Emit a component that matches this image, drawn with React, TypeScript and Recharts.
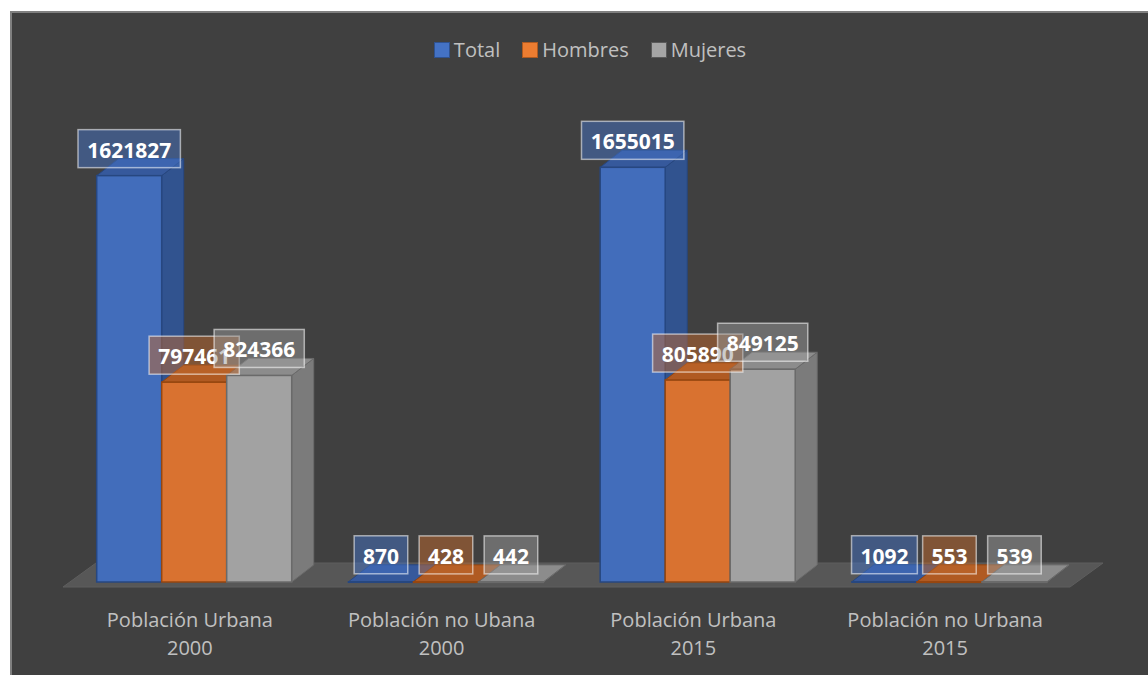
import React from 'react';
import { BarChart, Bar, XAxis, YAxis, LabelList, ReferenceArea, Legend } from 'recharts';

const categories = [
  'Población Urbana 2000',
  'Población no Ubana 2000',
  'Población Urbana 2015',
  'Población no Urbana 2015',
];
const seriesNames = ['Total', 'Hombres', 'Mujeres'];
const totalValues = [1621827, 870, 1655015, 1092];
const hombresValues = [797461, 428, 805890, 553];
const mujeresValues = [824366, 442, 849125, 539];

const data = categories.map((name, i) => ({
  name,
  Total: totalValues[i],
  Hombres: hombresValues[i],
  Mujeres: mujeresValues[i],
}));

const styles = {
  Total: { front: '#426dbb', side: '#31538f', top: '#36599c', edge: '#274780', label: '#4472c4', legend: '#4472c4', legendEdge: '#2f528f' },
  Hombres: { front: '#d97230', side: '#a9561f', top: '#b05a22', edge: '#96460f', label: '#c0682c', legend: '#ed7d31', legendEdge: '#ae5a21' },
  Mujeres: { front: '#a2a2a2', side: '#7b7b7b', top: '#8c8c8c', edge: '#6a6a6a', label: '#9a9a9a', legend: '#a5a5a5', legendEdge: '#5a5a5a' },
};

const DX = 22;
const DY = 17;
const FONT = '"Open Sans", "DejaVu Sans", sans-serif';

const make3D = (s: any) => (props: any) => {
  const { x, y, width, height } = props;
  const x2 = x + width;
  const yb = y + height;
  return (
    <g>
      <polygon
        points={`${x2},${y} ${x2 + DX},${y - DY} ${x2 + DX},${yb - DY} ${x2},${yb}`}
        fill={s.side}
        stroke={s.edge}
        strokeWidth={1}
      />
      <polygon
        points={`${x},${y} ${x + DX},${y - DY} ${x2 + DX},${y - DY} ${x2},${y}`}
        fill={s.top}
        stroke={s.edge}
        strokeWidth={1}
      />
      <rect x={x} y={y} width={width} height={Math.max(height, 0.5)} fill={s.front} stroke={s.edge} strokeWidth={1.5} />
    </g>
  );
};

const makeLabel = (s: any) => (props: any) => {
  const { x, y, width, value } = props;
  const text = String(value);
  const w = text.length * 12.2 + 17;
  const cx = x + width / 2;
  const cy = y - 27;
  return (
    <g>
      <rect
        x={cx - w / 2}
        y={cy - 19}
        width={w}
        height={38}
        fill={s.label}
        fillOpacity={0.5}
        stroke="#ffffff"
        strokeOpacity={0.55}
        strokeWidth={1.5}
      />
      <text
        x={cx}
        y={cy + 1}
        textAnchor="middle"
        dominantBaseline="central"
        fill="#ffffff"
        fontWeight="bold"
        fontSize={21}
        fontFamily={FONT}
      >
        {text}
      </text>
    </g>
  );
};

const CatTick = (props: any) => {
  const { x, y, payload } = props;
  const words = String(payload.value).split(' ');
  const year = words.pop();
  const first = words.join(' ');
  return (
    <text textAnchor="middle" fill="#c0c0c0" fontSize={20} fontFamily={FONT}>
      <tspan x={x - 5} y={y + 45}>{first}</tspan>
      <tspan x={x - 5} y={y + 73}>{year}</tspan>
    </text>
  );
};

const Floor = (props: any) => {
  const { x, y, width, height } = props;
  const yb = y + height;
  const pts = `${x - 6},${yb + 5} ${x + width - 6},${yb + 5} ${x + width + 27},${yb - 19} ${x + 27},${yb - 19}`;
  return <polygon points={pts} fill="#575757" stroke="#5e5e5e" strokeWidth={1} />;
};

const LegendContent = () => (
  <div
    style={{
      display: 'flex',
      justifyContent: 'center',
      alignItems: 'center',
      paddingLeft: 32,
      fontFamily: FONT,
      fontSize: 20,
      color: '#c0c0c0',
      lineHeight: '24px',
    }}
  >
    {seriesNames.map((n, i) => {
      const s = (styles as any)[n];
      return (
        <div key={n} style={{ display: 'flex', alignItems: 'center', marginRight: i < seriesNames.length - 1 ? 22 : 0 }}>
          <span
            style={{
              display: 'inline-block',
              width: 14,
              height: 14,
              background: s.legend,
              border: `1.5px solid ${s.legendEdge}`,
              marginRight: 4,
            }}
          />
          <span>{n}</span>
        </div>
      );
    })}
  </div>
);

export default function App() {
  return (
    <div style={{ position: 'absolute', left: 0, top: 0, width: 1148, height: 675, background: '#ffffff', overflow: 'hidden' }}>
      <div
        style={{
          position: 'absolute',
          left: 10,
          top: 11,
          width: 1138,
          height: 664,
          background: '#404040',
          borderLeft: '2px solid #808080',
          borderTop: '2px solid #808080',
          boxSizing: 'border-box',
        }}
      />
      <div style={{ position: 'absolute', left: 0, top: 0 }}>
        <BarChart
          width={1148}
          height={675}
          data={data}
          margin={{ top: 131, right: 72, bottom: 33, left: 69 }}
          barCategoryGap="11%"
          barGap={0}
        >
          <XAxis
            dataKey="name"
            axisLine={false}
            tickLine={false}
            tickSize={0}
            tickMargin={0}
            height={60}
            interval={0}
            tick={<CatTick />}
          />
          <YAxis hide domain={[0, 1800000]} />
          <ReferenceArea
            x1={categories[0]}
            x2={categories[categories.length - 1]}
            y1={0}
            y2={0}
            ifOverflow="visible"
            shape={<Floor />}
          />
          <Legend verticalAlign="middle" wrapperStyle={{ top: 38, left: 0, width: 1148 }} content={<LegendContent />} />
          {seriesNames.map((n) => (
            <Bar key={n} dataKey={n} isAnimationActive={false} shape={make3D((styles as any)[n])}>
              <LabelList dataKey={n} content={makeLabel((styles as any)[n])} />
            </Bar>
          ))}
        </BarChart>
      </div>
    </div>
  );
}
